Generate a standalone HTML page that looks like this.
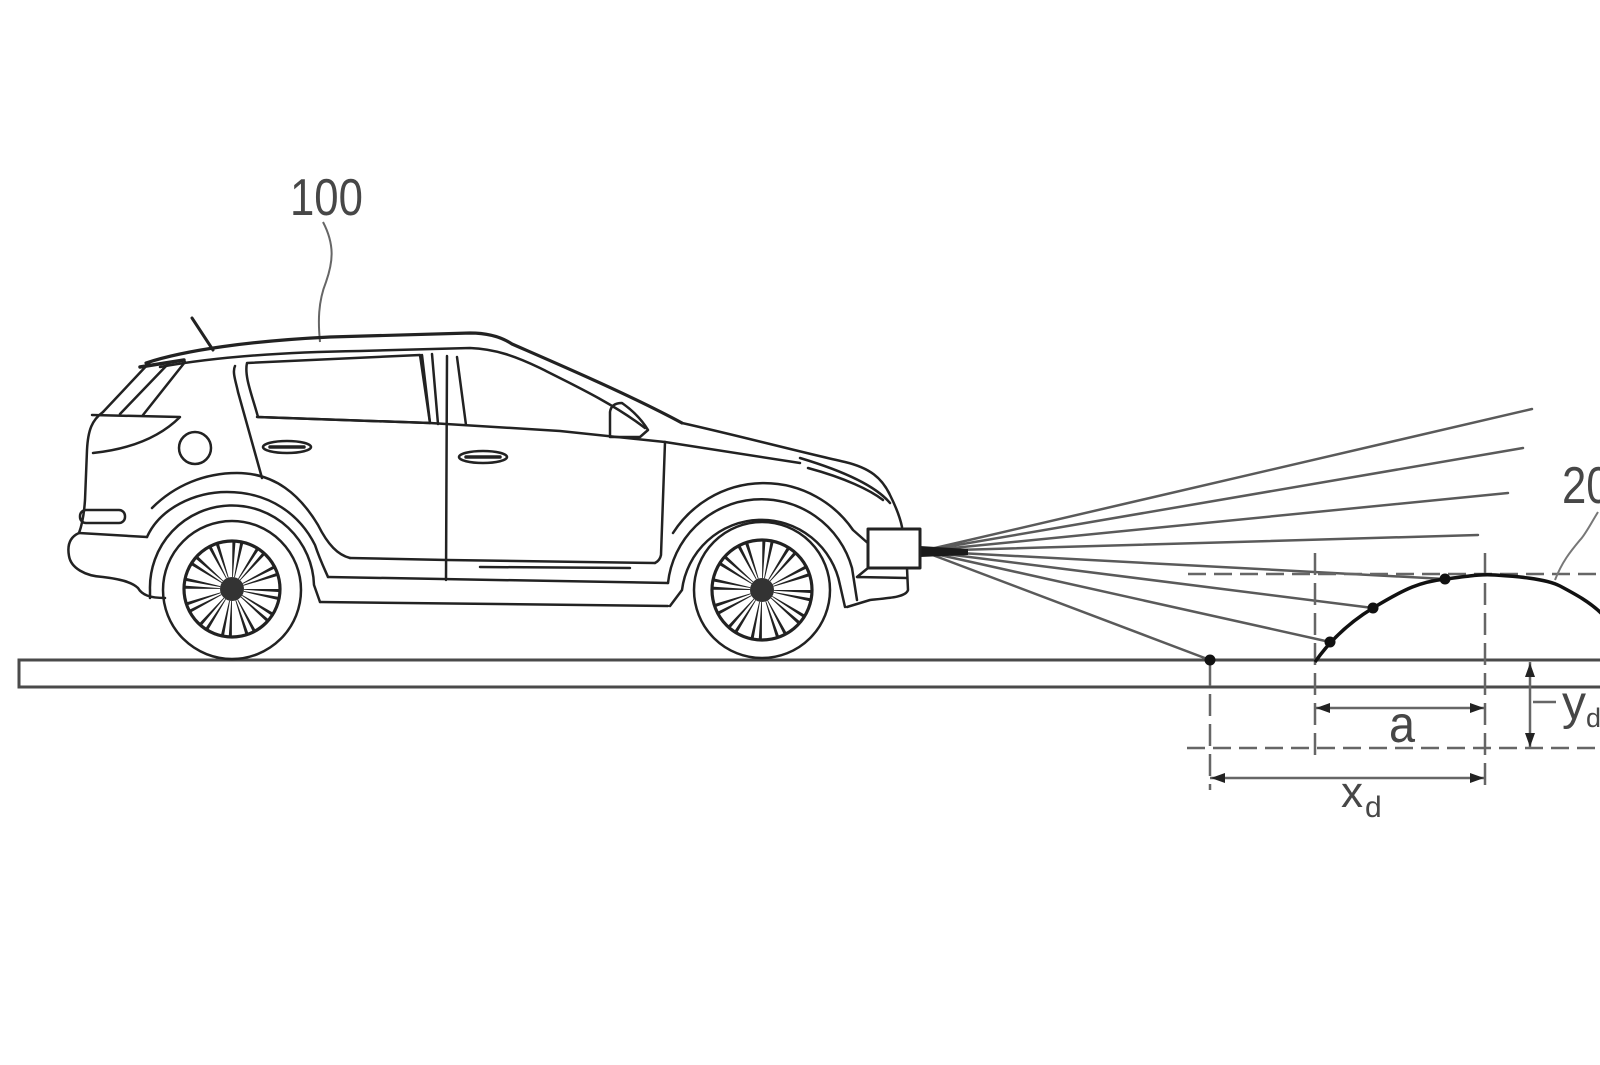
<!DOCTYPE html>
<html><head><meta charset="utf-8"><style>html,body{margin:0;padding:0;background:#fff;}svg{display:block}</style></head>
<body>
<svg width="1600" height="1065" viewBox="0 0 1600 1065" xmlns="http://www.w3.org/2000/svg">
<rect width="1600" height="1065" fill="#fff"/>

<!-- ground -->
<rect x="19" y="660" width="1620" height="27" fill="none" stroke="#4a4a4a" stroke-width="3"/>

<!-- rays -->
<g stroke="#5a5a5a" stroke-width="2.5" fill="none" stroke-linecap="round">
<line x1="922" y1="551" x2="1532" y2="409"/>
<line x1="922" y1="551" x2="1523" y2="448"/>
<line x1="922" y1="551" x2="1508" y2="493"/>
<line x1="922" y1="551" x2="1478" y2="535"/>
<line x1="922" y1="551" x2="1445" y2="579"/>
<line x1="922" y1="551" x2="1373" y2="608"/>
<line x1="922" y1="551" x2="1330" y2="642"/>
<line x1="922" y1="551" x2="1210" y2="660"/>
</g>
<path d="M920,546 L968,549 L968,555 L920,557 Z" fill="#1a1a1a"/>

<!-- dimension dashed lines -->
<g stroke="#666" stroke-width="2.5" fill="none">
<line x1="1210" y1="664" x2="1210" y2="790" stroke-dasharray="22 8"/>
<line x1="1315" y1="553" x2="1315" y2="758" stroke-dasharray="22 8"/>
<line x1="1485" y1="553" x2="1485" y2="790" stroke-dasharray="22 8"/>
<line x1="1188" y1="574" x2="1600" y2="574" stroke-dasharray="18 8"/>
<line x1="1187" y1="748" x2="1600" y2="748" stroke-dasharray="18 8"/>
<line x1="1315" y1="708" x2="1485" y2="708"/>
<line x1="1210" y1="778" x2="1485" y2="778"/>
<line x1="1530" y1="662" x2="1530" y2="748"/>
<line x1="1533" y1="702" x2="1556" y2="702"/>
</g>
<g fill="#222">
<polygon points="1316,708 1330,703 1330,713"/>
<polygon points="1484,708 1470,703 1470,713"/>
<polygon points="1211,778 1225,773 1225,783"/>
<polygon points="1484,778 1470,773 1470,783"/>
<polygon points="1530,663 1525,677 1535,677"/>
<polygon points="1530,747 1525,733 1535,733"/>
</g>

<!-- object 200 curve -->
<path d="M1315,662 C1322,652 1340,628 1373,608 S1420,582 1445,579 S1480,574 1495,575 S1545,578 1560,586 S1590,602 1602,614" fill="none" stroke="#111" stroke-width="3.5"/>
<g fill="#111">
<circle cx="1210" cy="660" r="5.5"/>
<circle cx="1330" cy="642" r="5.5"/>
<circle cx="1373" cy="608" r="5.5"/>
<circle cx="1445" cy="579" r="5.5"/>
</g>
<!-- leader 200 -->
<path d="M1598,512 C1590,525 1585,535 1580,540 C1570,552 1562,562 1555,580" fill="none" stroke="#777" stroke-width="2"/>

<!-- labels -->
<g fill="#474747" font-family="Liberation Sans, sans-serif">
<text transform="translate(290,215) scale(0.84,1)" font-size="52">100</text>
<text transform="translate(1562,503) scale(0.84,1)" font-size="52">200</text>
<text transform="translate(1389,742) scale(0.9,1)" font-size="52">a</text>
<text transform="translate(1341,807)" font-size="44">x</text>
<text transform="translate(1365,817)" font-size="30">d</text>
<text transform="translate(1562,719)" font-size="48">y</text>
<text transform="translate(1586,727)" font-size="27">d</text>
</g>
<!-- leader 100 -->
<path d="M323,222 C335,245 333,262 326,282 C318,302 318,322 320,342" fill="none" stroke="#666" stroke-width="2"/>

<!-- CAR -->
<g fill="none" stroke="#222" stroke-width="2.5" stroke-linecap="round" stroke-linejoin="round">
<!-- antenna -->
<line x1="192" y1="318" x2="213" y2="350" stroke-width="3"/>
<!-- roof outer -->
<path d="M146,363 C185,350 250,341 330,337 L470,333 C490,333 503,338 512,344 C560,365 630,395 682,423" stroke-width="3.2"/>
<!-- roof inner -->
<path d="M160,367 C220,356 290,352 360,351 L470,348 C495,349 515,356 540,368 C580,388 615,405 645,428"/>
<!-- rear glass stripes -->
<path d="M150,362 L103,412 M168,364 L120,414 M185,362 L143,415"/>
<path d="M140,367 L184,360" stroke-width="3.5"/>
<!-- rear body -->
<path d="M103,412 C92,420 88,430 87,450 L85,500 C84,515 82,525 79,533"/>
<path d="M79,533 C70,537 67,545 69,556 C71,568 85,576 103,577 C120,579 132,582 138,588 C142,595 150,598 165,598"/>
<path d="M79,533 L147,537"/>
<!-- taillight -->
<path d="M92,415 L180,417 C165,432 140,448 93,453"/>
<!-- reflector -->
<rect x="80" y="510" width="45" height="13" rx="6"/>
<!-- fuel cap -->
<circle cx="195" cy="448" r="16"/>
<!-- rear quarter window -->
<path d="M247,363 L420,355 L430,423 L258,417 C252,395 244,376 247,363 Z"/>
<path d="M235,366 C232,372 236,382 238,392 L262,478"/>
<!-- B pillar -->
<path d="M422,355 L430,423 M432,354 L438,424 M447,356 L446,580 M457,357 L466,425"/>
<!-- beltline -->
<path d="M257,417 L430,423 L560,431 L665,442"/>
<!-- mirror -->
<path d="M610,437 L610,412 C611,405 616,403 622,403 C632,410 642,420 648,430 L640,437 Z"/>
<!-- front door front edge -->
<path d="M665,442 L661,555 C660,560 657,562 655,563"/>
<!-- door handles -->
<ellipse cx="287" cy="447" rx="24" ry="6"/>
<line x1="270" y1="447" x2="304" y2="447" stroke-width="3.5"/>
<ellipse cx="483" cy="457" rx="24" ry="6"/>
<line x1="466" y1="457" x2="500" y2="457" stroke-width="3.5"/>
<!-- door bottom / rocker -->
<path d="M350,558 L447,560 L655,563"/>
<path d="M480,567 L630,568"/>
<path d="M328,577 L668,583"/>
<path d="M320,602 L668,606"/>
<!-- rear arches -->
<path d="M152,508 C175,485 205,473 237,473 C275,473 300,495 318,525 C328,545 338,555 350,558"/>
<path d="M147,537 C160,508 195,492 227,492 C270,492 300,515 315,545 C320,560 325,570 328,577"/>
<path d="M150,598 L150,590 A82,82 0 0 1 314,585 L320,602"/>
<!-- rear wheel -->
<circle cx="232" cy="590" r="69"/>
<circle cx="232" cy="589" r="48" stroke-width="3.2"/>
<circle cx="232" cy="589" r="30" stroke-width="36" stroke-linecap="butt" stroke-dasharray="2 3 2 8.71" stroke="#222"/>
<circle cx="232" cy="589" r="12" fill="#333" stroke="none"/>
<!-- front arches -->
<path d="M673,533 A108,108 0 0 1 853,530 L870,545"/>
<path d="M668,583 A94,94 0 0 1 852,568 L857,600"/>
<path d="M670,606 L682,590 A80,80 0 0 1 840,585 L845,607"/>
<!-- front wheel -->
<circle cx="762" cy="590" r="68"/>
<circle cx="762" cy="590" r="50" stroke-width="3.2"/>
<circle cx="762" cy="590" r="31" stroke-width="38" stroke-linecap="butt" stroke-dasharray="2 3.2 2 9.03" stroke="#222"/>
<circle cx="762" cy="590" r="12" fill="#333" stroke="none"/>
<!-- hood -->
<path d="M682,423 C740,436 800,452 845,462 C870,468 882,478 890,495 C896,507 900,517 902,527"/>
<path d="M665,442 L800,463"/>
<path d="M800,458 C840,470 875,485 890,503"/>
<path d="M808,468 C845,478 870,490 883,500"/>
<!-- front bumper -->
<path d="M907,568 L908,590 C906,597 890,598 870,600 L847,607"/>
<path d="M857,577 L868,568 M857,577 L907,578"/>
<rect x="868" y="529" width="52" height="39" fill="#fff" stroke-width="3"/>
</g>
</svg>
</body></html>
